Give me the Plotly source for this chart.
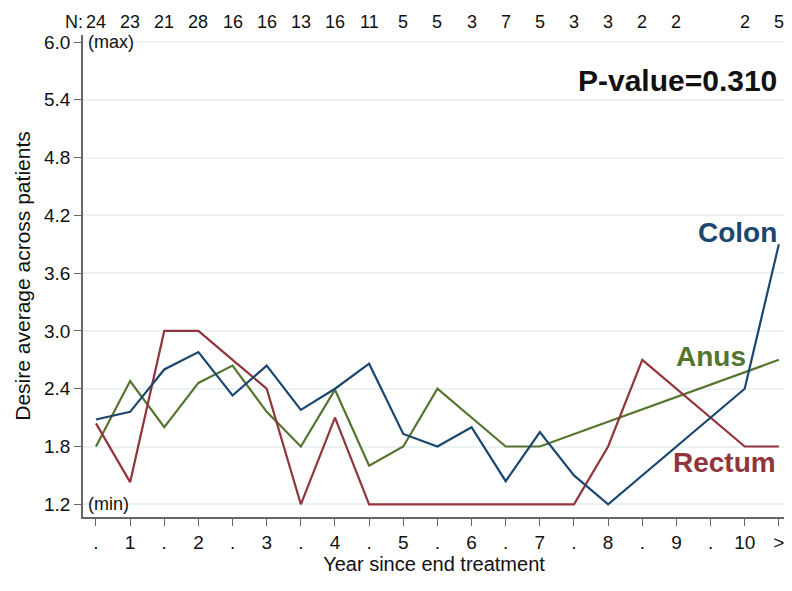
import plotly.graph_objects as go

positions = list(range(21))
tick_labels = [".", "1", ".", "2", ".", "3", ".", "4", ".", "5", ".", "6", ".", "7", ".", "8", ".", "9", ".", "10", ">"]
n_labels = ["24", "23", "21", "28", "16", "16", "13", "16", "11", "5", "5", "3", "7", "5", "3", "3", "2", "2", "", "2", "5"]

colon = [2.08, 2.16, 2.60, 2.78, 2.33, 2.64, 2.18, 2.40, 2.66, 1.93, 1.80, 2.00, 1.44, 1.95, 1.50, 1.20,
         None, None, None, 2.40, 3.90]
rectum = [2.04, 1.43, 3.00, 3.00, 2.70, 2.40, 1.20, 2.10, 1.20, 1.20, 1.20, 1.20, 1.20, 1.20, 1.20, 1.80,
          2.70, None, None, 1.80, 1.80]
anus = [1.80, 2.48, 2.00, 2.46, 2.64, 2.16, 1.80, 2.39, 1.60, 1.80, 2.40, 2.10, 1.80, 1.80,
        None, None, None, None, None, None, 2.70]

y_ticks = [1.2, 1.8, 2.4, 3.0, 3.6, 4.2, 4.8, 5.4, 6.0]
y_ticktext = ["1.2", "1.8", "2.4", "3.0", "3.6", "4.2", "4.8", "5.4", "6.0"]

NAVY = "#1a476f"
MAROON = "#90353b"
GREEN = "#55752f"
FONT = "Liberation Sans, Arial, sans-serif"

fig = go.Figure()
for name, vals, col in [("Anus", anus, GREEN), ("Rectum", rectum, MAROON), ("Colon", colon, NAVY)]:
    fig.add_trace(go.Scatter(x=positions, y=vals, mode="lines", name=name,
                             line=dict(color=col, width=2.2), connectgaps=True,
                             showlegend=False, cliponaxis=False))

ann = []
for p, n in zip(positions, n_labels):
    if n:
        ann.append(dict(x=p, y=1.027, xref="x", yref="paper", text=n, showarrow=False,
                        font=dict(size=18, color="#111", family=FONT), xanchor="center", yanchor="middle"))
ann.append(dict(x=0, y=1.027, xref="x", yref="paper", text="N:", showarrow=False, xshift=-11,
                font=dict(size=18, color="#111", family=FONT), xanchor="right", yanchor="middle"))
ann.append(dict(x=-0.38, y=6.0, xref="x", yref="y", text="(max)", showarrow=False, xshift=3,
                font=dict(size=18, color="#111", family=FONT), xanchor="left", yanchor="middle"))
ann.append(dict(x=-0.38, y=1.2, xref="x", yref="y", text="(min)", showarrow=False, xshift=3,
                font=dict(size=18, color="#111", family=FONT), xanchor="left", yanchor="middle"))
ann.append(dict(x=20.0, y=5.60, xref="x", yref="y", text="<b>P-value=0.310</b>", showarrow=False,
                font=dict(size=30, color="#111", family=FONT), xanchor="right", yanchor="middle"))
ann.append(dict(x=20.0, y=4.02, xref="x", yref="y", text="<b>Colon</b>", showarrow=False,
                font=dict(size=28, color=NAVY, family=FONT), xanchor="right", yanchor="middle"))
ann.append(dict(x=18.0, y=2.73, xref="x", yref="y", text="<b>Anus</b>", showarrow=False,
                font=dict(size=28, color=GREEN, family=FONT), xanchor="center", yanchor="middle"))
ann.append(dict(x=18.4, y=1.63, xref="x", yref="y", text="<b>Rectum</b>", showarrow=False,
                font=dict(size=28, color=MAROON, family=FONT), xanchor="center", yanchor="middle"))

fig.update_layout(
    width=784, height=575,
    margin=dict(l=75, r=7, t=27, b=66, autoexpand=False),
    plot_bgcolor="white", paper_bgcolor="white",
    font=dict(family=FONT, size=19, color="#111"),
    annotations=ann,
    xaxis=dict(range=[-0.38, 20.18], tickmode="array", tickvals=positions, ticktext=tick_labels,
               showgrid=False, zeroline=False, showline=True, linecolor="#666", linewidth=1.5,
               ticks="outside", ticklen=7, tickcolor="#666", tickwidth=1.2, automargin=True,
               tickfont=dict(size=19, family=FONT, color="#111"),
               title=dict(text="Year since end treatment", standoff=2,
                          font=dict(size=20, family=FONT, color="#111"))),
    yaxis=dict(range=[1.068, 6.073], tickmode="array", tickvals=y_ticks, ticktext=y_ticktext,
               showgrid=True, gridcolor="#eaf2f3", gridwidth=1.5, zeroline=False,
               showline=True, linecolor="#666", linewidth=1.5, automargin=True,
               ticks="outside", ticklen=7, tickcolor="#666", tickwidth=1.2,
               tickfont=dict(size=19, family=FONT, color="#111"),
               title=dict(text="Desire average across patients", standoff=8,
                          font=dict(size=21, family=FONT, color="#111"))),
)

fig.write_html("out.html")
